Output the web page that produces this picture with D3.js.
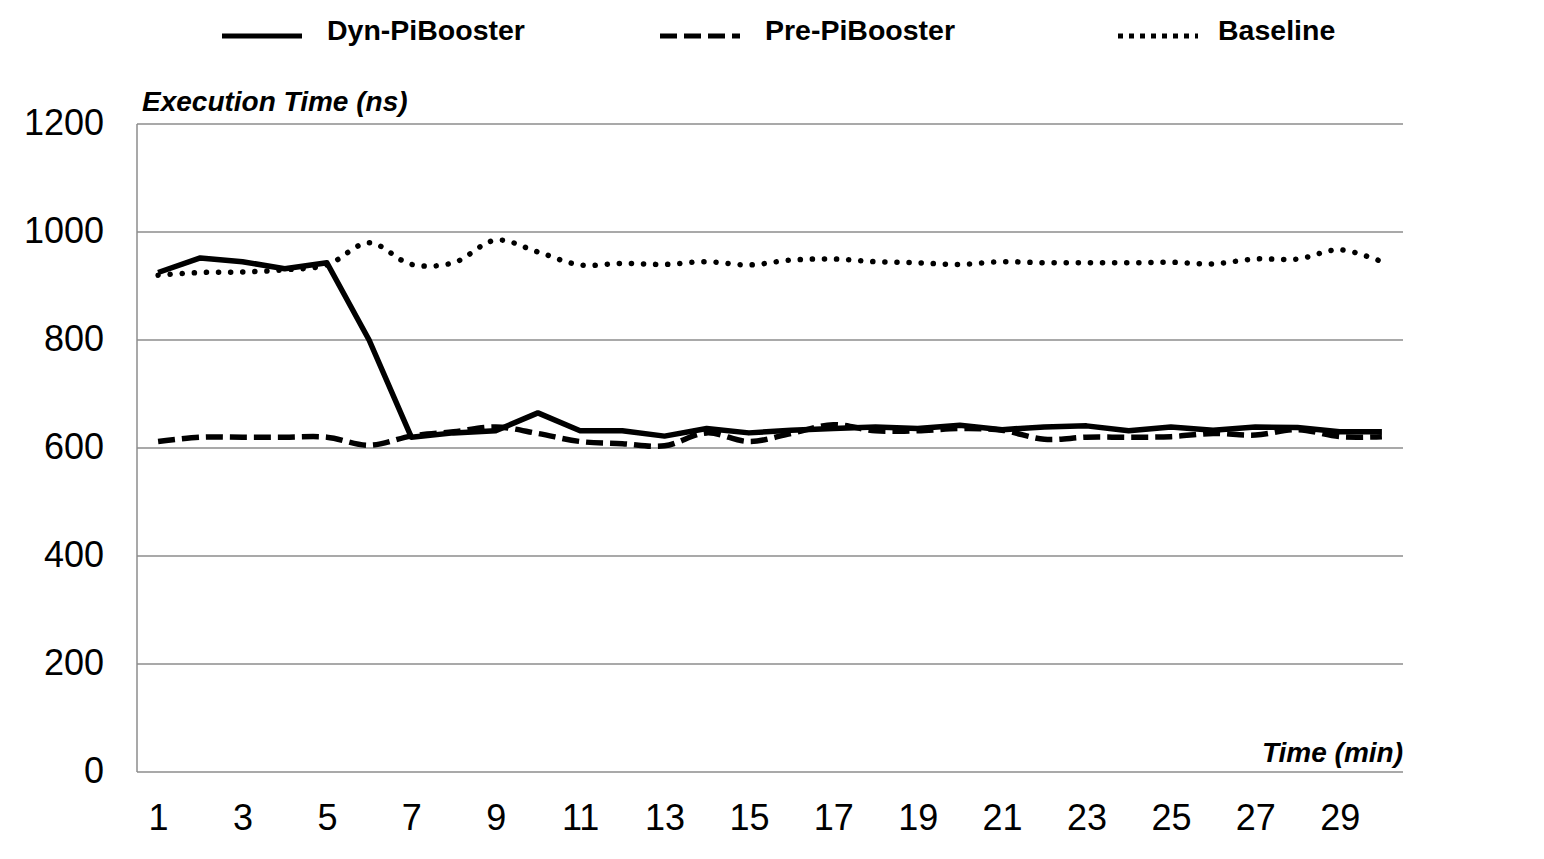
<!DOCTYPE html>
<html>
<head>
<meta charset="utf-8">
<script src="https://cdn.jsdelivr.net/npm/d3@7"></script>
<style>
  body { margin: 0; background: #fff; }
  text { font-family: "Liberation Sans", Arial, sans-serif; fill: #000; }
</style>
</head>
<body>
<div id="chart"></div>
<script>
var width = 1544,
	height = 859;

// minutes 1..30
var minutes = d3.range(1, 31);
var tickLabels = [1, 3, 5, 7, 9, 11, 13, 15, 17, 19, 21, 23, 25, 27, 29];
var yTicks = [0, 200, 400, 600, 800, 1000, 1200];

var dynPiBooster = [925, 952, 945, 932, 943, 800, 620, 628, 632, 665,
	632, 632, 622, 636, 628, 633, 636, 639, 636, 642,
	634, 639, 641, 632, 639, 633, 639, 638, 630, 630];
var prePiBooster = [612, 620, 620, 620, 620, 605, 622, 630, 639, 627,
	612, 608, 604, 628, 612, 627, 643, 632, 632, 636,
	633, 616, 620, 620, 621, 627, 624, 634, 621, 621];
var baseline = [920, 925, 926, 930, 939, 980, 940, 943, 985, 963,
	939, 942, 940, 945, 939, 948, 950, 945, 943, 940,
	945, 943, 943, 943, 944, 941, 950, 950, 967, 945];

var seriesNames = ["Dyn-PiBooster", "Pre-PiBooster", "Baseline"];

var plot = {left: 137, right: 1403, top: 124, bottom: 772};

var svg = d3.select("#chart").append("svg")
	.attr("width", width)
	.attr("height", height)

var x = d3.scalePoint()
	.domain(minutes)
	.range([plot.left, plot.right])
	.padding(0.5)

var y = d3.scaleLinear()
	.domain([0, 1200])
	.range([plot.bottom, plot.top])

// gridlines
svg.append("g")
	.selectAll("line")
	.data(yTicks)
	.enter()
	.append("line")
	.attr("x1", plot.left)
	.attr("x2", plot.right)
	.attr("y1", function(d){ return y(d); })
	.attr("y2", function(d){ return y(d); })
	.attr("stroke", "#8c8c8c")
	.attr("stroke-width", 1.5)

svg.append("line")
	.attr("x1", plot.left).attr("x2", plot.left)
	.attr("y1", plot.top).attr("y2", plot.bottom)
	.attr("stroke", "#8c8c8c")
	.attr("stroke-width", 1.5)

// y axis labels
var yAxis = d3.axisLeft(y).tickValues(yTicks).tickFormat(d3.format("d")).tickSize(0).tickPadding(33)
svg.append("g")
	.attr("transform", "translate(" + plot.left + ",0)")
	.call(yAxis)
	.call(function(g){ g.select(".domain").remove(); })
	.selectAll("text")
	.style("font-family", "Liberation Sans, Arial, sans-serif")
	.style("font-size", "36px")
	.attr("dy", "0.3em")

// x axis labels
var xAxis = d3.axisBottom(x).tickValues(tickLabels).tickSize(0).tickPadding(32)
svg.append("g")
	.attr("transform", "translate(0," + plot.bottom + ")")
	.call(xAxis)
	.call(function(g){ g.select(".domain").remove(); })
	.selectAll("text")
	.style("font-family", "Liberation Sans, Arial, sans-serif")
	.style("font-size", "36px")

// axis titles
svg.append("text")
	.attr("x", 142)
	.attr("y", 111)
	.style("font-size", "28px")
	.style("font-weight", "bold")
	.style("font-style", "italic")
	.text("Execution Time (ns)")

svg.append("text")
	.attr("x", plot.right)
	.attr("y", 762)
	.attr("text-anchor", "end")
	.style("font-size", "28px")
	.style("font-weight", "bold")
	.style("font-style", "italic")
	.text("Time (min)")

// lines
var styles = [
	{data: baseline, dash: "0.1 12", cap: "round", width: 5.5, curve: d3.curveCatmullRom},
	{data: dynPiBooster, dash: null, cap: "butt", width: 5.5, curve: d3.curveLinear},
	{data: prePiBooster, dash: "17 7", cap: "butt", width: 5.5, curve: d3.curveCatmullRom}
];

styles.forEach(function(s){
	var line = d3.line()
		.x(function(d, i){ return x(minutes[i]); })
		.y(function(d){ return y(d); })
		.curve(s.curve)
	svg.append("path")
		.datum(s.data)
		.attr("d", line)
		.attr("fill", "none")
		.attr("stroke", "#000")
		.attr("stroke-width", s.width)
		.attr("stroke-linecap", s.cap)
		.attr("stroke-linejoin", "round")
		.attr("stroke-dasharray", s.dash)
});

// legend
var legendItems = [
	{name: seriesNames[0], x: 222, dash: null},
	{name: seriesNames[1], x: 660, dash: "17 7"},
	{name: seriesNames[2], x: 1118, dash: "5 6"}
];

var legend = svg.selectAll(".legend")
	.data(legendItems)
	.enter()
	.append("g")
	.classed("legend", true)
	.attr("transform", function(d){ return "translate(" + d.x + ",36)"; })

legend.append("line")
	.attr("x1", 0)
	.attr("x2", 80)
	.attr("stroke", "#000")
	.attr("stroke-width", 5)
	.attr("stroke-dasharray", function(d){ return d.dash; })

legend.append("text")
	.attr("x", function(d, i){ return i == 2 ? 100 : 105; })
	.attr("y", 4)
	.style("font-size", "28.5px")
	.style("font-weight", "bold")
	.text(function(d){ return d.name; })
</script>
</body>
</html>
